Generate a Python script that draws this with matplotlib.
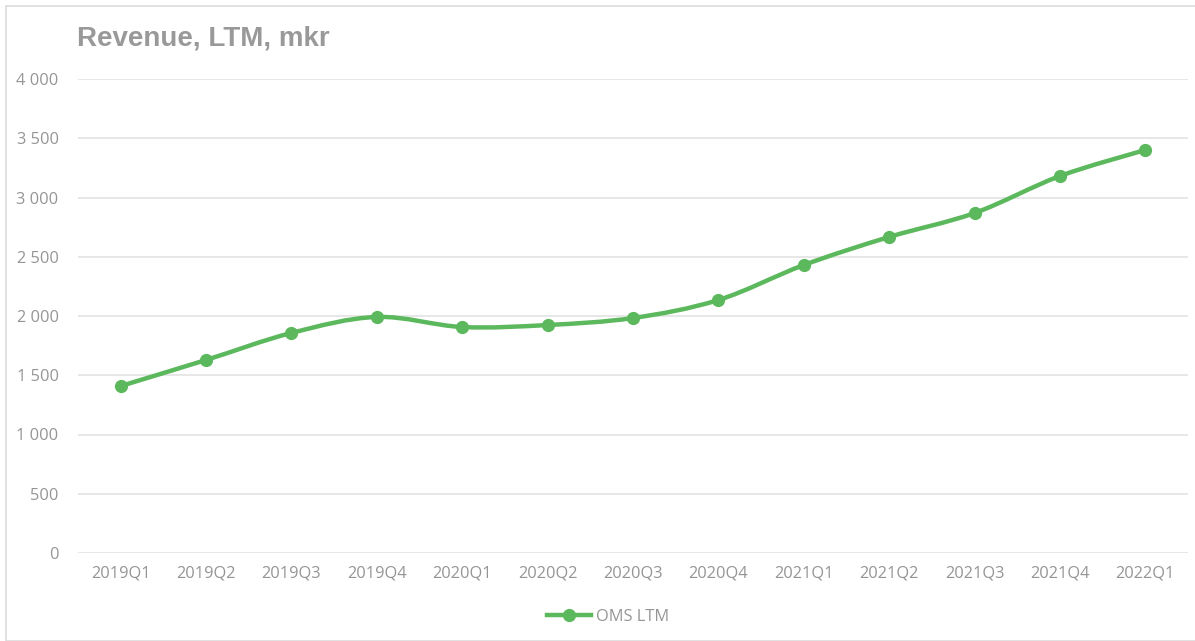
import numpy as np
import matplotlib
matplotlib.use("Agg")
import matplotlib.pyplot as plt
from matplotlib.path import Path
from matplotlib.patches import PathPatch, Rectangle
from matplotlib.lines import Line2D

quarters = ["2019Q1", "2019Q2", "2019Q3", "2019Q4", "2020Q1", "2020Q2", "2020Q3",
            "2020Q4", "2021Q1", "2021Q2", "2021Q3", "2021Q4", "2022Q1"]
revenue = [1409, 1629, 1857, 1992, 1907, 1924, 1983, 2135, 2430, 2667, 2869, 3181, 3401]
yticks = [0, 500, 1000, 1500, 2000, 2500, 3000, 3500, 4000]

GREEN = "#5cb85c"
GRAY = "#959595"
GRID = "#e3e3e3"

fig = plt.figure(figsize=(11.95, 6.41), dpi=100)
ax = fig.add_axes([78/1195, 1 - 553/641, 1110/1195, 474/641])

# outer chart border
fig.patches.append(Rectangle((6/1195, 0), 1, 1 - 6/641, transform=fig.transFigure,
                             fill=False, edgecolor="#dcdcdc", linewidth=1.2))

x = np.arange(len(quarters))
pts = np.column_stack([x, revenue]).astype(float)

# smoothed line (Catmull-Rom style Bezier, like Excel's smooth line)
verts = [pts[0]]
codes = [Path.MOVETO]
n = len(pts)
for i in range(n - 1):
    p0 = pts[max(i - 1, 0)]
    p1 = pts[i]
    p2 = pts[i + 1]
    p3 = pts[min(i + 2, n - 1)]
    c1 = p1 + (p2 - p0) / 6
    c2 = p2 - (p3 - p1) / 6
    verts += [c1, c2, p2]
    codes += [Path.CURVE4] * 3
ax.add_patch(PathPatch(Path(verts, codes), fill=False, edgecolor=GREEN,
                       linewidth=3.2, capstyle="round", joinstyle="round", zorder=3))
ax.plot(x, revenue, linestyle="none", marker="o", markersize=8.5, color=GREEN, zorder=4)

ax.set_xlim(-0.5, len(quarters) - 0.5)
ax.set_ylim(0, 4000)
ax.set_yticks(yticks)
ax.set_yticklabels([f"{v:,}".replace(",", " ") for v in yticks])
ax.set_xticks(x)
ax.set_xticklabels(quarters)
ax.grid(axis="y", color=GRID, linewidth=1.2)
ax.set_axisbelow(True)
for s in ax.spines.values():
    s.set_visible(False)
ax.tick_params(length=0, colors=GRAY, labelsize=11.8, pad=9)
ax.tick_params(axis="y", pad=14)
for lab in ax.get_xticklabels() + ax.get_yticklabels():
    lab.set_family("Open Sans")
    lab.set_color(GRAY)

fig.text(77/1195, 1 - 38/641, "Revenue, LTM, mkr", fontsize=20, fontweight="bold",
         color="#999999", family="Liberation Sans", va="center", ha="left")

handle = Line2D([], [], color=GREEN, linewidth=3.2, marker="o", markersize=8.5)
fig.legend([handle], ["OMS LTM"], loc="center", bbox_to_anchor=(608/1195, 1 - 617/641),
           frameon=False, handlelength=2.7, handletextpad=0.3,
           prop={"family": "Open Sans", "size": 11.8}, labelcolor=GRAY)

plt.savefig("out.png", dpi=100)
plt.close()
